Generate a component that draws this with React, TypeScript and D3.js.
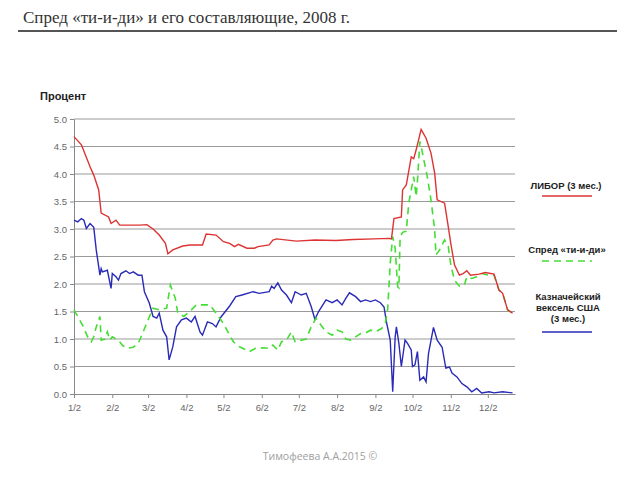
import React, { useRef, useEffect } from 'react';
import * as d3 from 'd3';

// LIBOR 3m, %
const liborDates = ['01-02','01-08','01-15','01-18','01-22','01-24','01-30','02-01','02-05','02-08','02-24','03-01','03-06','03-11','03-16','03-18','03-22','03-30','04-05','04-15','04-18','04-26','05-02','05-07','05-11','05-14','05-21','05-27','05-30','06-08','06-11','06-14','06-30','07-15','08-01','08-15','09-01','09-13','09-15','09-17','09-23','09-24','09-27','10-01','10-03','10-05','10-09','10-13','10-17','10-20','10-22','10-28','10-31','11-02','11-05','11-09','11-12','11-15','11-18','11-25','11-30','12-07','12-11','12-14','12-18','12-22'];
const liborValues = [4.68,4.53,4.13,3.98,3.71,3.29,3.22,3.10,3.16,3.07,3.07,3.08,3.00,2.89,2.74,2.55,2.62,2.69,2.71,2.71,2.91,2.89,2.77,2.74,2.68,2.72,2.65,2.65,2.68,2.71,2.80,2.82,2.78,2.80,2.79,2.81,2.82,2.83,2.82,3.19,3.22,3.71,3.80,4.31,4.28,4.44,4.81,4.65,4.38,4.01,3.53,3.47,3.04,2.74,2.35,2.16,2.19,2.24,2.16,2.18,2.21,2.18,1.89,1.83,1.53,1.47];

// TED spread, %
const tedDates = ['01-02','01-05','01-09','01-13','01-16','01-18','01-20','01-23','01-24','01-27','01-29','01-31','02-02','02-07','02-10','02-14','02-19','02-23','02-27','03-02','03-06','03-11','03-17','03-20','03-24','03-26','03-31','04-06','04-10','04-15','04-21','04-26','05-02','05-07','05-10','05-15','05-23','05-28','06-03','06-08','06-11','06-15','06-18','06-22','06-26','06-29','07-04','07-08','07-12','07-16','07-20','07-24','07-29','08-02','08-06','08-09','08-13','08-17','08-21','08-25','08-29','09-02','09-07','09-10','09-12','09-14','09-16','09-18','09-20','09-21','09-22','09-24','09-27','09-29','10-02','10-03','10-05','10-06','10-08','10-09','10-14','10-17','10-20','10-21','10-24','10-28','10-31','11-02','11-05','11-09','11-13','11-15','11-19','11-23','11-27','12-03','12-07','12-11','12-14','12-18','12-22'];
const tedValues = [1.53,1.41,1.25,1.04,0.95,1.04,1.22,1.41,0.98,1.00,1.13,0.98,1.04,0.98,0.89,0.83,0.85,0.92,1.13,1.35,1.56,1.53,1.56,1.98,1.74,1.47,1.41,1.53,1.62,1.62,1.62,1.47,1.28,1.07,0.95,0.86,0.77,0.83,0.84,0.83,0.89,0.80,0.95,0.98,1.13,0.95,0.98,1.00,1.22,1.38,1.25,1.13,1.07,1.16,1.13,1.00,0.98,1.04,1.10,1.11,1.16,1.13,1.19,1.28,1.56,2.38,2.86,2.65,1.95,1.93,2.86,2.94,2.96,3.47,3.83,3.95,3.59,3.86,4.59,4.50,3.95,3.53,2.98,2.53,2.62,2.80,2.68,2.35,2.07,1.96,1.98,2.13,2.10,2.13,2.19,2.16,2.16,1.89,1.83,1.53,1.47];

// US T-bill 3m, %
const billDates = ['01-02','01-05','01-08','01-10','01-12','01-15','01-18','01-20','01-23','01-24','01-25','01-29','02-01','02-02','02-05','02-07','02-09','02-13','02-16','02-19','02-23','02-26','02-28','03-03','03-06','03-09','03-11','03-14','03-17','03-19','03-22','03-25','03-29','04-02','04-06','04-09','04-13','04-15','04-19','04-23','04-26','04-30','05-07','05-12','05-17','05-26','05-31','06-08','06-10','06-12','06-15','06-18','06-22','06-26','06-29','07-04','07-08','07-12','07-15','07-18','07-24','07-29','08-02','08-06','08-09','08-12','08-17','08-21','08-25','08-29','09-02','09-06','09-09','09-11','09-14','09-16','09-18','09-19','09-21','09-23','09-26','09-28','10-01','10-02','10-04','10-06','10-08','10-11','10-13','10-15','10-19','10-22','10-26','10-29','11-01','11-03','11-07','11-11','11-15','11-19','11-23','11-27','12-03','12-07','12-14','12-22'];
const billValues = [3.16,3.13,3.19,3.16,3.01,3.10,3.03,2.62,2.16,2.28,2.22,2.25,1.92,2.19,2.13,2.07,2.19,2.24,2.19,2.22,2.16,2.16,1.86,1.65,1.41,1.38,1.47,1.16,1.04,0.62,0.86,1.22,1.35,1.38,1.31,1.41,1.13,1.07,1.31,1.28,1.22,1.40,1.60,1.77,1.80,1.86,1.83,1.86,1.96,1.92,2.02,1.89,1.80,1.66,1.86,1.80,1.83,1.59,1.36,1.50,1.71,1.66,1.71,1.62,1.74,1.84,1.77,1.68,1.71,1.68,1.71,1.66,1.58,1.30,0.98,0.04,1.04,1.22,0.92,0.50,0.98,0.92,0.80,0.50,0.53,0.77,0.25,0.31,0.22,0.74,1.21,0.98,0.85,0.47,0.49,0.38,0.31,0.19,0.13,0.04,0.10,0.02,0.04,0.02,0.04,0.02];

const yTicks = [0, 0.5, 1, 1.5, 2, 2.5, 3, 3.5, 4, 4.5, 5];
const xTickLabels = ['1/2','2/2','3/2','4/2','5/2','6/2','7/2','8/2','9/2','10/2','11/2','12/2'];

const parse = d3.timeParse('%Y-%m-%d');
const toPoints = (dates: string[], vals: number[]) =>
  dates.map((d, i) => ({ date: parse('2008-' + d)!, value: vals[i] }));

const App: React.FC = () => {
  const svgRef = useRef<SVGSVGElement | null>(null);

  useEffect(() => {
    const svg = d3.select(svgRef.current!);
    svg.selectAll('*').remove();

    const x = d3.scaleTime()
      .domain([parse('2008-01-02')!, parse('2008-12-24')!])
      .range([74, 515]);
    const y = d3.scaleLinear().domain([0, 5]).range([394, 119]);

    // title
    svg.append('text')
      .attr('x', 23).attr('y', 23)
      .attr('font-family', '"Liberation Serif", serif')
      .attr('font-size', 17)
      .attr('fill', '#333')
      .text('Спред «ти-и-ди» и его составляющие, 2008 г.');
    svg.append('line')
      .attr('x1', 18).attr('x2', 617).attr('y1', 31).attr('y2', 31)
      .attr('stroke', '#555').attr('stroke-width', 1.8);

    svg.append('text')
      .attr('x', 40).attr('y', 100)
      .attr('font-family', '"Liberation Sans", Arial, sans-serif')
      .attr('font-size', 11).attr('font-weight', 'bold')
      .attr('fill', '#222')
      .text('Процент');

    // gridlines
    svg.append('g')
      .selectAll('line')
      .data(yTicks.filter((t) => t > 0))
      .enter()
      .append('line')
      .attr('x1', 74).attr('x2', 515)
      .attr('y1', (d) => y(d)).attr('y2', (d) => y(d))
      .attr('stroke', '#9a9a9a').attr('stroke-width', 1.2);

    // y axis
    const yAxis = svg.append('g')
      .attr('transform', 'translate(74,0)')
      .call(d3.axisLeft(y).tickValues(yTicks).tickFormat(d3.format('.1f')).tickSize(4).tickSizeOuter(0));
    yAxis.select('.domain').attr('stroke', '#888');
    yAxis.selectAll('.tick line').attr('stroke', '#888');
    yAxis.selectAll('.tick text')
      .attr('fill', '#666').attr('font-size', 9.5)
      .attr('font-family', '"Liberation Sans", Arial, sans-serif');

    // x axis
    const tickDates = xTickLabels.map((_, i) => new Date(2008, i, 2));
    const xAxis = svg.append('g')
      .attr('transform', 'translate(0,394)')
      .call(d3.axisBottom(x).tickValues(tickDates)
        .tickFormat((d, i) => xTickLabels[i]).tickSize(4).tickSizeOuter(0));
    xAxis.select('.domain').attr('stroke', '#888');
    xAxis.selectAll('.tick line').attr('stroke', '#888');
    xAxis.selectAll('.tick text')
      .attr('fill', '#666').attr('font-size', 9.5).attr('dy', '1.1em')
      .attr('font-family', '"Liberation Sans", Arial, sans-serif');

    const line = d3.line<{ date: Date; value: number }>()
      .x((d) => x(d.date))
      .y((d) => y(d.value));

    svg.append('path')
      .datum(toPoints(billDates, billValues))
      .attr('d', line).attr('fill', 'none')
      .attr('stroke', '#2a2ab8').attr('stroke-width', 1.4);
    svg.append('path')
      .datum(toPoints(tedDates, tedValues))
      .attr('d', line).attr('fill', 'none')
      .attr('stroke', '#44dd33').attr('stroke-width', 1.6)
      .attr('stroke-dasharray', '7,5');
    svg.append('path')
      .datum(toPoints(liborDates, liborValues))
      .attr('d', line).attr('fill', 'none')
      .attr('stroke', '#dd3333').attr('stroke-width', 1.4);

    // legend
    const leg = svg.append('g')
      .attr('font-family', '"Liberation Sans", Arial, sans-serif')
      .attr('font-size', 9.5).attr('font-weight', 'bold')
      .attr('fill', '#222').attr('text-anchor', 'middle');
    leg.append('text').attr('x', 566).attr('y', 189).text('ЛИБОР (3 мес.)');
    leg.append('line').attr('x1', 542).attr('x2', 592).attr('y1', 196).attr('y2', 196)
      .attr('stroke', '#dd3333').attr('stroke-width', 1.4);
    leg.append('text').attr('x', 567).attr('y', 253).text('Спред «ти-и-ди»');
    leg.append('line').attr('x1', 542).attr('x2', 592).attr('y1', 261).attr('y2', 261)
      .attr('stroke', '#44dd33').attr('stroke-width', 1.6).attr('stroke-dasharray', '7,5');
    ['Казначейский', 'вексель США', '(3 мес.)'].forEach((t, i) => {
      leg.append('text').attr('x', 568).attr('y', 300 + i * 11).text(t);
    });
    leg.append('line').attr('x1', 542).attr('x2', 592).attr('y1', 332).attr('y2', 332)
      .attr('stroke', '#2a2ab8').attr('stroke-width', 1.4);

    svg.append('text')
      .attr('x', 320).attr('y', 460).attr('text-anchor', 'middle')
      .attr('font-family', '"Open Sans", sans-serif')
      .attr('font-size', 10.5).attr('fill', '#a0a0a0')
      .text('Тимофеева А.А.2015 ©');
  }, []);

  return (
    <svg ref={svgRef} width={640} height={480}
      style={{ position: 'absolute', left: 0, top: 0, background: '#fff' }} />
  );
};

export default App;
